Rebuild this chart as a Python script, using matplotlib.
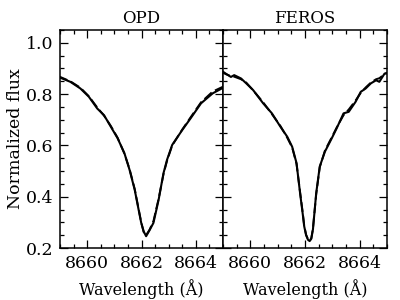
import matplotlib
matplotlib.use("Agg")
import matplotlib.pyplot as plt
from matplotlib.ticker import MultipleLocator

plt.rcParams['font.family'] = ['DejaVu Serif']
plt.rcParams['mathtext.fontset'] = 'dejavuserif'

# OPD panel: observed (solid) and model (dashed)
opd_wl = [8658.94, 8659.38, 8659.75, 8660.06, 8660.37, 8660.62, 8660.87, 8661.12,
          8661.37, 8661.56, 8661.75, 8661.87, 8661.99, 8662.08, 8662.17, 8662.30,
          8662.44, 8662.63, 8662.81, 8662.94, 8663.13, 8663.50, 8663.81, 8664.19,
          8664.62, 8665.06]
opd_obs = [0.867, 0.848, 0.822, 0.790, 0.744, 0.718, 0.673, 0.628,
           0.570, 0.505, 0.427, 0.362, 0.298, 0.265, 0.246, 0.270,
           0.298, 0.388, 0.492, 0.544, 0.602, 0.660, 0.706, 0.764,
           0.803, 0.828]
opd_mod = [0.870, 0.850, 0.825, 0.792, 0.748, 0.716, 0.676, 0.630,
           0.568, 0.508, 0.430, 0.365, 0.300, 0.262, 0.250, 0.272,
           0.305, 0.392, 0.488, 0.540, 0.600, 0.662, 0.710, 0.768,
           0.810, 0.832]

# FEROS panel
feros_wl = [8658.92, 8659.10, 8659.29, 8659.41, 8659.66, 8659.85, 8660.10, 8660.47,
            8660.79, 8661.10, 8661.35, 8661.53, 8661.69, 8661.82, 8661.92, 8661.97,
            8662.04, 8662.11, 8662.17, 8662.23, 8662.29, 8662.41, 8662.54, 8662.73,
            8662.98, 8663.16, 8663.41, 8663.60, 8663.85, 8664.04, 8664.22, 8664.41,
            8664.60, 8664.72, 8664.91, 8665.09]
feros_obs = [0.893, 0.880, 0.867, 0.874, 0.861, 0.842, 0.816, 0.764,
             0.725, 0.673, 0.634, 0.595, 0.531, 0.414, 0.330, 0.285,
             0.250, 0.232, 0.227, 0.236, 0.272, 0.414, 0.518, 0.576,
             0.628, 0.667, 0.725, 0.731, 0.770, 0.809, 0.822, 0.842,
             0.854, 0.848, 0.880, 0.886]
feros_mod = [0.888, 0.878, 0.870, 0.868, 0.858, 0.845, 0.815, 0.768,
             0.722, 0.676, 0.630, 0.592, 0.528, 0.418, 0.335, 0.288,
             0.252, 0.234, 0.229, 0.238, 0.275, 0.410, 0.515, 0.580,
             0.632, 0.670, 0.718, 0.740, 0.775, 0.805, 0.826, 0.845,
             0.858, 0.862, 0.878, 0.884]

titles = ["OPD", "FEROS"]

fig = plt.figure(figsize=(4, 3), dpi=100)
ax1 = fig.add_axes([0.15, 0.1733, 0.4075, 0.7267])
ax2 = fig.add_axes([0.5575, 0.1733, 0.41, 0.7267])

panels = [(ax1, opd_wl, opd_obs, opd_mod), (ax2, feros_wl, feros_obs, feros_mod)]
for i, (ax, wl, obs, mod) in enumerate(panels):
    ax.plot(wl, mod, color="k", lw=1.4, ls=(0, (5, 2)))
    ax.plot(wl, obs, color="k", lw=1.5)
    ax.set_xlim(8659, 8665)
    ax.set_ylim(0.2, 1.05)
    ax.xaxis.set_major_locator(MultipleLocator(2))
    ax.xaxis.set_minor_locator(MultipleLocator(0.5))
    ax.yaxis.set_major_locator(MultipleLocator(0.2))
    ax.yaxis.set_minor_locator(MultipleLocator(0.05))
    ax.tick_params(which="both", direction="in", top=True, right=True, labelsize=12.5, width=0.9)
    ax.tick_params(which="major", length=5.5, pad=5)
    ax.tick_params(which="minor", length=2.8)
    for sp in ax.spines.values():
        sp.set_linewidth(1.1)
    ax.set_title(titles[i], fontsize=12, pad=5)
    ax.set_xlabel("Wavelength (Å)", fontsize=11.5, labelpad=5)

ax1.set_ylabel("Normalized flux", fontsize=12.5, labelpad=1)
ax2.tick_params(labelleft=False)

fig.savefig("out.png", dpi=100)
